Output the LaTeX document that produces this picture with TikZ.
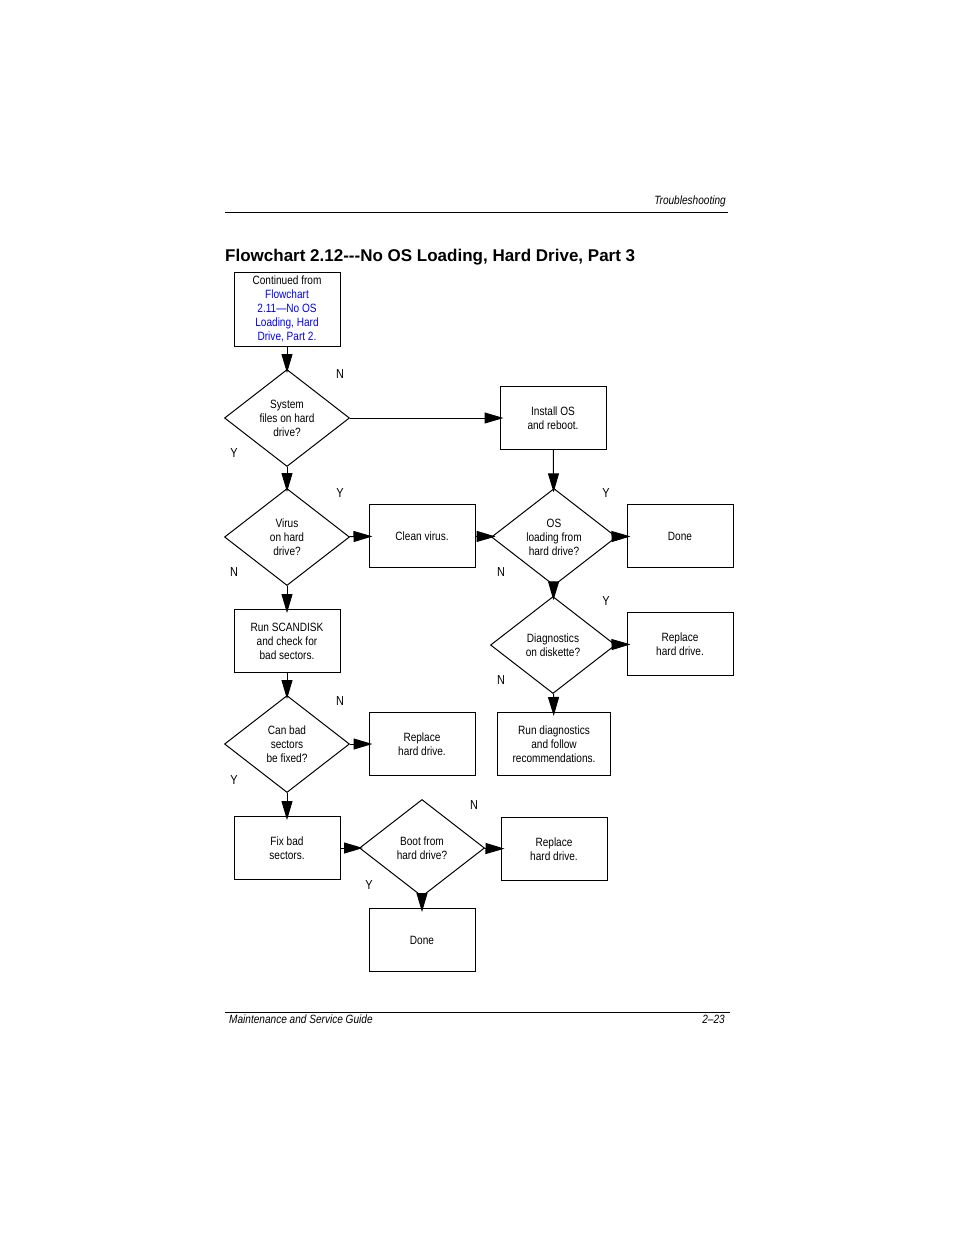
\documentclass[tikz,border=0pt]{standalone}
\usepackage{fontspec}
\setmainfont[FakeStretch=0.84]{Liberation Sans}
\newfontfamily\titlefont{Liberation Sans}
\usetikzlibrary{shapes.geometric,arrows.meta}
\tikzset{
  box/.style={draw, line width=1pt, minimum width=106pt, minimum height=63pt, align=center, font=\fontsize{12}{14}\selectfont},
  decision/.style={diamond, draw, line width=1pt, minimum width=125pt, minimum height=97pt, inner sep=0pt, align=center, font=\fontsize{12}{14}\selectfont},
  flow/.style={line width=1pt, -{Triangle[length=19pt,width=11pt]}, shorten >=-4pt},
  yn/.style={font=\fontsize{13}{15}\selectfont}
}
\begin{document}
\begin{tikzpicture}[x=1pt,y=-1pt]
  \useasboundingbox (0,0) rectangle (954,1235);
  % page header and footer
  \node[anchor=south east, inner sep=1pt, font=\itshape\fontsize{12}{14}\selectfont] (hdr) at (727,208) {Troubleshooting};
  \draw[line width=0.6pt] (225,212) -- (728,212);
  \node[anchor=west, inner sep=0pt, font=\titlefont\bfseries\fontsize{17}{20}\selectfont] (title) at (225,257)
    {Flowchart 2.12---No OS Loading, Hard Drive, Part 3};
  \draw[line width=0.6pt] (225,1012) -- (730,1012);
  \node[anchor=north west, inner sep=1pt, font=\itshape\fontsize{12}{14}\selectfont] (ftl) at (228,1014) {Maintenance and Service Guide};
  \node[anchor=north east, inner sep=1pt, font=\itshape\fontsize{12}{14}\selectfont] (ftr) at (726,1014) {2--23};

  % boxes
  \node[box, minimum width=106pt, minimum height=74pt, inner sep=1pt] (cont) at (287,309)
    {Continued from\\\textcolor{blue}{Flowchart}\\\textcolor{blue}{2.11---No OS}\\\textcolor{blue}{Loading, Hard}\\\textcolor{blue}{Drive, Part 2.}};
  \node[decision] (sysfiles) at (287,418) {System\\files on hard\\drive?};
  \node[box] (install) at (553,418) {Install OS\\and reboot.};
  \node[decision] (virus) at (287,537) {Virus\\on hard\\drive?};
  \node[box] (clean) at (422,536) {Clean virus.};
  \node[decision] (osload) at (554,537) {OS\\loading from\\hard drive?};
  \node[box] (done1) at (680,536) {Done};
  \node[box] (scandisk) at (287,641) {Run SCANDISK\\and check for\\bad sectors.};
  \node[decision] (diag) at (553,645) {Diagnostics\\on diskette?};
  \node[box] (repl1) at (680,644) {Replace\\hard drive.};
  \node[decision] (canfix) at (287,744) {Can bad\\sectors\\be fixed?};
  \node[box] (repl2) at (422,744) {Replace\\hard drive.};
  \node[box, minimum width=113pt] (rundiag) at (554,744) {Run diagnostics\\and follow\\recommendations.};
  \node[box] (fixbad) at (287,848) {Fix bad\\sectors.};
  \node[decision] (boot) at (422,848) {Boot from\\hard drive?};
  \node[box] (repl3) at (554,849) {Replace\\hard drive.};
  \node[box] (done2) at (422,940) {Done};

  % connectors
  \draw[flow] (cont) -- (sysfiles);
  \draw[flow] (sysfiles) -- (install);
  \draw[flow] (sysfiles) -- (virus);
  \draw[flow] (install) -- (osload);
  \draw[flow] (virus) -- (clean);
  \draw[flow] (virus) -- (scandisk);
  \draw[flow] (clean) -- (osload);
  \draw[flow] (osload) -- (done1);
  \draw[flow] (osload) -- (diag);
  \draw[flow] (diag) -- (repl1);
  \draw[flow] (diag) -- (rundiag);
  \draw[flow] (scandisk) -- (canfix);
  \draw[flow] (canfix) -- (repl2);
  \draw[flow] (canfix) -- (fixbad);
  \draw[flow] (fixbad) -- (boot);
  \draw[flow] (boot) -- (repl3);
  \draw[flow] (boot) -- (done2);

  % Y/N labels
  \node[yn] (n1) at (340,374) {N};
  \node[yn] (y1) at (234,453) {Y};
  \node[yn] (y2) at (340,493) {Y};
  \node[yn] (n2) at (234,572) {N};
  \node[yn] (y3) at (606,493) {Y};
  \node[yn] (n3) at (501,572) {N};
  \node[yn] (y4) at (606,601) {Y};
  \node[yn] (n4) at (501,680) {N};
  \node[yn] (n5) at (340,701) {N};
  \node[yn] (y5) at (234,780) {Y};
  \node[yn] (n6) at (474,805) {N};
  \node[yn] (y6) at (369,885) {Y};
\end{tikzpicture}
\end{document}
